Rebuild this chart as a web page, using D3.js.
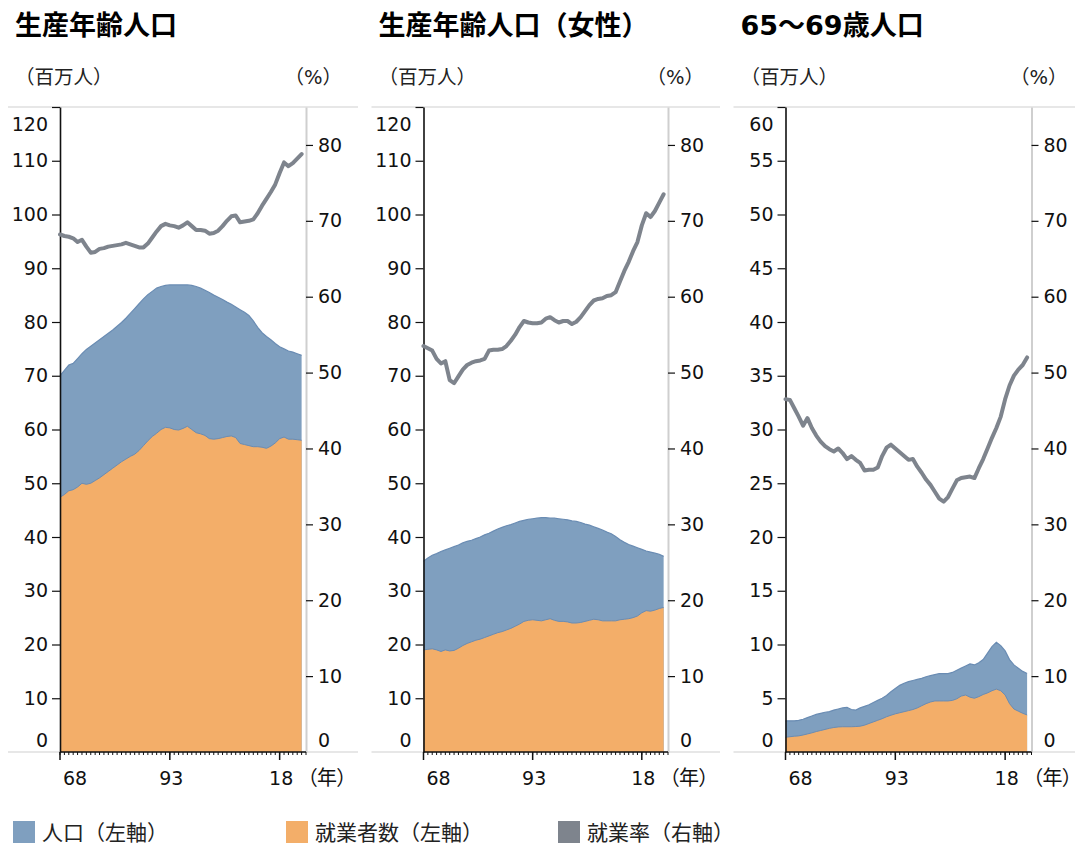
<!DOCTYPE html>
<html>
<head>
<meta charset="utf-8">
<script src="https://cdn.jsdelivr.net/npm/d3@7"></script>
<style>
  body { margin: 0; background: #fff; }
  svg { display: block; font-family: "DejaVu Sans", "Noto Sans CJK JP", sans-serif; }
  .palt { font-feature-settings: "palt" 1; }
</style>
</head>
<body>
<svg id="chart" width="1075" height="846"></svg>
<script>
// ---- data (millions of people / percent), annual 1968–2023 ----
const years = [1968,1969,1970,1971,1972,1973,1974,1975,1976,1977,
  1978,1979,1980,1981,1982,1983,1984,1985,1986,1987,
  1988,1989,1990,1991,1992,1993,1994,1995,1996,1997,
  1998,1999,2000,2001,2002,2003,2004,2005,2006,2007,
  2008,2009,2010,2011,2012,2013,2014,2015,2016,2017,
  2018,2019,2020,2021,2022,2023];

// working-age population (15–64)
const workingPop = [70.0,71.0,72.0,72.3,73.2,74.1,74.9,75.5,76.1,76.7,
  77.3,77.9,78.5,79.2,79.9,80.7,81.6,82.5,83.4,84.3,
  85.1,85.7,86.3,86.6,86.8,86.9,86.9,86.9,86.9,86.9,
  86.8,86.6,86.3,85.9,85.5,85.0,84.6,84.2,83.7,83.3,
  82.8,82.3,81.8,81.2,80.2,79.0,78.0,77.3,76.7,76.0,
  75.4,75.0,74.6,74.4,74.1,73.8];
const workingEmp = [47.4,47.9,48.6,48.8,49.3,50.0,49.8,50.0,50.5,51.0,
  51.6,52.2,52.8,53.4,54.0,54.5,55.0,55.4,56.1,57.0,
  57.9,58.7,59.3,60.0,60.4,60.3,60.0,59.9,60.2,60.6,
  60.0,59.4,59.2,58.9,58.3,58.2,58.3,58.5,58.7,58.8,
  58.5,57.4,57.2,57.0,56.8,56.8,56.7,56.5,56.9,57.5,
  58.3,58.6,58.2,58.2,58.1,58.0];
const workingRate = [68.2,68.0,67.9,67.7,67.2,67.5,66.6,65.8,65.9,66.3,
  66.4,66.6,66.7,66.8,66.9,67.1,66.9,66.7,66.5,66.5,
  67.0,67.8,68.6,69.3,69.6,69.4,69.3,69.1,69.4,69.8,
  69.3,68.8,68.8,68.7,68.3,68.4,68.7,69.3,70.0,70.6,
  70.7,69.8,69.9,70.0,70.2,71.0,72.0,72.9,73.8,74.8,
  76.3,77.7,77.2,77.6,78.2,78.8];

// working-age population, women
const femalePop = [35.5,36.1,36.6,36.9,37.3,37.6,37.9,38.2,38.5,38.9,
  39.2,39.4,39.7,40.0,40.4,40.7,41.1,41.5,41.8,42.1,
  42.3,42.6,42.9,43.1,43.3,43.4,43.5,43.6,43.6,43.5,
  43.5,43.4,43.3,43.2,43.0,42.9,42.7,42.4,42.2,41.9,
  41.6,41.3,40.9,40.6,40.1,39.5,39.0,38.6,38.3,38.0,
  37.7,37.4,37.2,37.0,36.8,36.4];
const femaleEmp = [19.0,19.1,19.2,19.0,18.7,19.0,18.8,18.9,19.3,19.8,
  20.2,20.5,20.8,21.0,21.3,21.6,21.9,22.2,22.4,22.7,
  23.0,23.4,23.8,24.3,24.5,24.6,24.5,24.4,24.6,24.8,
  24.5,24.3,24.3,24.2,24.0,24.0,24.1,24.3,24.5,24.7,
  24.6,24.4,24.4,24.4,24.4,24.6,24.7,24.8,25.0,25.3,
  25.9,26.3,26.2,26.4,26.7,26.9];
const femaleRate = [53.5,53.2,52.9,51.8,51.2,51.5,49.0,48.6,49.5,50.4,
  51.0,51.3,51.5,51.6,51.8,52.9,53.0,53.0,53.1,53.5,
  54.2,55.0,56.0,56.8,56.6,56.5,56.5,56.6,57.1,57.3,
  56.9,56.6,56.8,56.8,56.4,56.7,57.3,58.1,58.9,59.5,
  59.7,59.8,60.1,60.2,60.6,62.0,63.4,64.6,66.0,67.2,
  69.4,71.0,70.5,71.3,72.4,73.5];

// population aged 65–69
const seniorPop = [2.9,2.9,2.9,2.95,3.05,3.2,3.35,3.5,3.6,3.7,
  3.75,3.9,4.0,4.1,4.15,3.95,3.9,4.1,4.25,4.4,
  4.6,4.8,5.0,5.25,5.6,5.9,6.2,6.4,6.55,6.65,
  6.75,6.85,7.0,7.1,7.2,7.3,7.3,7.3,7.4,7.6,
  7.8,8.0,8.2,8.1,8.3,8.6,9.2,9.8,10.2,9.9,
  9.4,8.6,8.1,7.8,7.5,7.3];
const seniorEmp = [1.37,1.42,1.47,1.5,1.58,1.68,1.78,1.9,2.0,2.1,
  2.2,2.28,2.33,2.35,2.35,2.35,2.37,2.4,2.5,2.65,
  2.8,2.95,3.1,3.28,3.42,3.55,3.65,3.75,3.85,3.95,
  4.1,4.3,4.5,4.65,4.75,4.75,4.75,4.75,4.8,4.95,
  5.2,5.3,5.1,5.0,5.15,5.35,5.5,5.7,5.85,5.7,
  5.3,4.5,4.0,3.8,3.6,3.45];
const seniorRate = [46.5,46.4,45.3,44.2,43.0,44.0,42.7,41.7,40.9,40.3,
  39.9,39.6,40.0,39.4,38.6,39.0,38.5,38.1,37.1,37.2,
  37.2,37.5,39.0,40.1,40.5,40.0,39.5,39.0,38.5,38.6,
  37.6,36.8,35.9,35.2,34.3,33.4,33.0,33.6,34.7,35.8,
  36.1,36.2,36.3,36.1,37.4,38.6,40.0,41.4,42.7,44.2,
  46.5,48.3,49.6,50.4,51.0,52.0];

// axes
const leftTicksLarge = [0,10,20,30,40,50,60,70,80,90,100,110,120];
const leftTicksSmall = [0,5,10,15,20,25,30,35,40,45,50,55,60];
const rightTicks = [0,10,20,30,40,50,60,70,80];
const majorYears = [1968, 1993, 2018];
const majorYearLabels = ["68", "93", "18"];

const panelTitles = ["生産年齢人口", "生産年齢人口（女性）", "65～69歳人口"];
const legendLabels = ["人口（左軸）", "就業者数（左軸）", "就業率（右軸）"];

// ---- drawing ----
const colors = { pop: "#7f9fbf", popEdge: "#6a8cb3", emp: "#f3ae69", rate: "#7e848d" };

const panels = [
  { title: panelTitles[0], pop: workingPop, emp: workingEmp, rate: workingRate, leftTicks: leftTicksLarge, x0: 60, x1: 306 },
  { title: panelTitles[1], pop: femalePop, emp: femaleEmp, rate: femaleRate, leftTicks: leftTicksLarge, x0: 423.5, x1: 668 },
  { title: panelTitles[2], pop: seniorPop, emp: seniorEmp, rate: seniorRate, leftTicks: leftTicksSmall, x0: 785.5, x1: 1031.5 }
];

const svg = d3.select("#chart");
const plotTop = 107, plotBottom = 752;
const tickFont = 19;

panels.forEach(p => {
  const g = svg.append("g");
  const leftMax = d3.max(p.leftTicks);
  const x = d3.scaleLinear().domain([1968, 2024]).range([p.x0, p.x1]);
  const yL = d3.scaleLinear().domain([0, leftMax]).range([plotBottom, plotTop]);
  const yR = d3.scaleLinear().domain([0, 85]).range([plotBottom, plotTop]);

  // title and unit labels
  g.append("text").attr("x", p.x0 - 45).attr("y", 35)
    .attr("font-size", 27).attr("font-weight", "bold").attr("fill", "#000")
    .text(p.title);
  g.append("text").attr("x", p.x0 - 45).attr("y", 84)
    .attr("font-size", 19.5).attr("fill", "#222").text("（百万人）");
  g.append("text").attr("x", p.x1 + 36).attr("y", 84).attr("text-anchor", "end")
    .attr("font-size", 19.5).attr("fill", "#222").text("（%）");

  // light frame lines
  [plotTop, plotBottom].forEach(yy => {
    g.append("line").attr("x1", p.x0 - 52).attr("x2", p.x1 + 52)
      .attr("y1", yy).attr("y2", yy)
      .attr("stroke", "#cfcfcf").attr("stroke-width", 1.2);
  });

  // areas
  const rows = years.map((yr, i) => ({ yr, pop: p.pop[i], emp: p.emp[i], rate: p.rate[i] }));
  const popArea = d3.area().x(d => x(d.yr)).y0(yL(0)).y1(d => yL(d.pop));
  const empArea = d3.area().x(d => x(d.yr)).y0(yL(0)).y1(d => yL(d.emp));
  g.append("path").datum(rows).attr("d", popArea).attr("fill", colors.pop);
  g.append("path").datum(rows).attr("d", empArea).attr("fill", colors.emp);
  const popLine = d3.line().x(d => x(d.yr)).y(d => yL(d.pop));
  const empLine = d3.line().x(d => x(d.yr)).y(d => yL(d.emp));
  g.append("path").datum(rows).attr("d", popLine).attr("fill", "none")
    .attr("stroke", colors.popEdge).attr("stroke-width", 1.2);
  g.append("path").datum(rows).attr("d", empLine).attr("fill", "none")
    .attr("stroke", colors.popEdge).attr("stroke-width", 1);

  // left axis
  const axL = g.append("g").attr("transform", `translate(${p.x0},0)`)
    .call(d3.axisLeft(yL).tickValues(p.leftTicks).tickSize(8).tickPadding(4).tickSizeOuter(0))
    .attr("font-family", null).attr("font-size", tickFont);
  axL.select(".domain").attr("stroke", "#111").attr("stroke-width", 1.6);
  axL.selectAll(".tick line").attr("stroke", "#111").attr("stroke-width", 1.2)
    .attr("display", d => d === 0 ? "none" : null);
  axL.selectAll(".tick text").attr("fill", "#111")
    .attr("transform", d => d === 0 ? "translate(0,-12)" : d === leftMax ? "translate(0,17)" : null);

  // right axis
  const axR = g.append("g").attr("transform", `translate(${p.x1},0)`)
    .call(d3.axisRight(yR).tickValues(rightTicks).tickSize(7).tickPadding(5).tickSizeOuter(0))
    .attr("font-family", null).attr("font-size", tickFont);
  axR.select(".domain").attr("stroke", "#cfcfcf").attr("stroke-width", 2);
  axR.selectAll(".tick line").attr("stroke", "#111").attr("stroke-width", 1.2)
    .attr("display", d => d === 0 ? "none" : null);
  axR.selectAll(".tick text").attr("fill", "#111")
    .attr("transform", d => d === 0 ? "translate(0,-12)" : null);

  // bottom axis: yearly minor ticks, labelled major ticks
  const axB = g.append("g").attr("transform", `translate(0,${plotBottom})`);
  axB.append("line").attr("x1", p.x0).attr("x2", p.x1).attr("y1", 0).attr("y2", 0)
    .attr("stroke", "#111").attr("stroke-width", 1.6);
  axB.selectAll("line.minor").data(d3.range(1968, 2025)).join("line")
    .attr("class", "minor")
    .attr("x1", d => x(d)).attr("x2", d => x(d)).attr("y1", 0).attr("y2", 3)
    .attr("stroke", "#111").attr("stroke-width", 1);
  axB.selectAll("line.major").data(majorYears).join("line")
    .attr("class", "major")
    .attr("x1", d => x(d)).attr("x2", d => x(d)).attr("y1", 0).attr("y2", 8)
    .attr("stroke", "#111").attr("stroke-width", 1.5);
  axB.selectAll("text.major").data(majorYears).join("text")
    .attr("class", "major")
    .attr("x", (d, i) => x(d) + (i === 0 ? 15 : 1.5)).attr("y", 33)
    .attr("text-anchor", "middle").attr("font-size", tickFont).attr("fill", "#111")
    .text((d, i) => majorYearLabels[i]);
  axB.append("text").attr("class", "palt").attr("x", p.x1 + 1).attr("y", 33)
    .attr("font-size", 20).attr("fill", "#111").text("（年）");

  // employment rate line (right axis)
  const rateLine = d3.line().x(d => x(d.yr)).y(d => yR(d.rate));
  g.append("path").datum(rows).attr("d", rateLine).attr("fill", "none")
    .attr("stroke", colors.rate).attr("stroke-width", 4)
    .attr("stroke-linejoin", "round").attr("stroke-linecap", "round");
});

// legend
const legendItems = [
  { label: legendLabels[0], color: colors.pop, x: 13 },
  { label: legendLabels[1], color: colors.emp, x: 286 },
  { label: legendLabels[2], color: colors.rate, x: 558 }
];
const lg = svg.append("g");
legendItems.forEach(it => {
  lg.append("rect").attr("x", it.x).attr("y", 821).attr("width", 22).attr("height", 22)
    .attr("fill", it.color);
  lg.append("text").attr("x", it.x + 29).attr("y", 840)
    .attr("font-size", 21).attr("fill", "#222").text(it.label);
});
</script>
</body>
</html>
